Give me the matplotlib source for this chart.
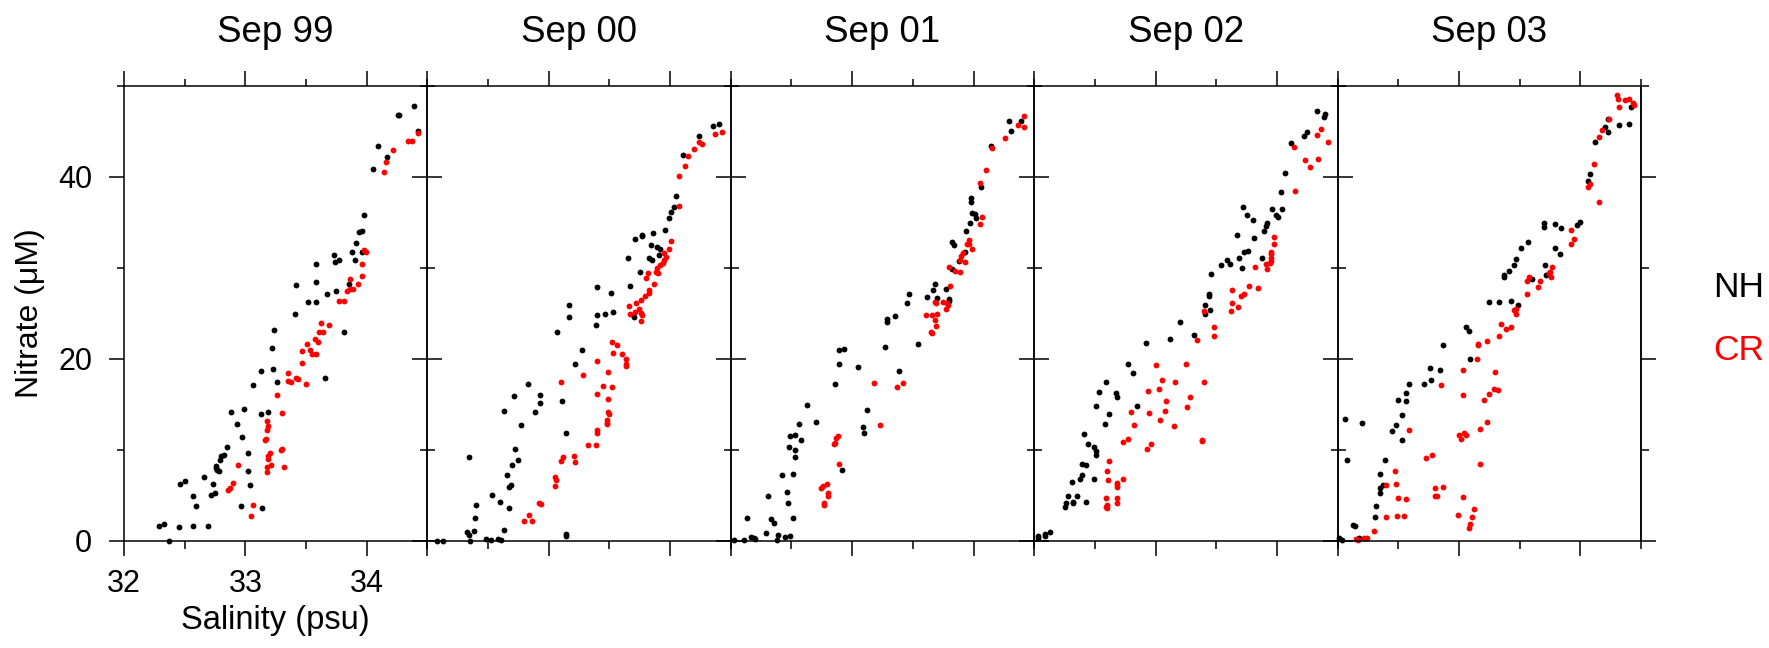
import matplotlib
matplotlib.use('Agg')
import matplotlib.pyplot as plt

plt.rcParams['font.family'] = ['Liberation Sans', 'DejaVu Sans']

titles = ['Sep 99', 'Sep 00', 'Sep 01', 'Sep 02', 'Sep 03']

# (salinity psu, nitrate uM)
nh_99 = [(34.39, 47.8), (34.26, 46.8), (34.27, 46.8), (34.42, 45.1), (34.09, 43.4), (34.17, 42.2), (34.05, 40.9),
         (33.98, 35.8), (33.94, 34.0), (33.96, 34.1), (33.91, 32.7), (33.73, 31.4), (33.74, 30.7), (33.77, 30.9),
         (33.88, 31.8), (33.96, 31.8), (33.90, 30.9), (33.58, 30.4), (33.58, 28.5), (33.42, 28.1), (33.85, 28.2),
         (33.75, 27.5), (33.67, 27.1), (33.52, 26.3), (33.58, 26.3), (33.41, 25.0), (33.24, 23.2), (33.81, 23.0),
         (33.22, 21.2), (33.13, 18.7), (33.23, 18.9), (33.26, 17.5), (33.66, 17.9), (33.06, 17.1), (32.88, 14.2),
         (32.99, 14.5), (33.13, 14.0), (33.19, 14.2), (32.93, 12.9), (32.97, 11.4), (32.85, 10.3), (33.02, 9.7),
         (32.80, 9.3), (32.82, 9.5), (32.79, 8.9), (32.76, 8.2), (32.76, 8.0), (32.78, 7.7), (32.77, 7.8),
         (33.02, 7.7), (32.66, 7.0), (32.46, 6.3), (32.50, 6.6), (32.73, 6.3), (33.04, 6.1), (32.57, 5.0),
         (32.72, 5.1), (32.75, 5.3), (32.59, 3.8), (32.96, 3.9), (33.14, 3.6), (32.29, 1.6), (32.33, 1.9),
         (32.45, 1.5), (32.57, 1.6), (32.69, 1.7), (32.37, 0.0)]
cr_99 = [(34.42, 44.8), (34.34, 44.0), (34.37, 44.0), (34.22, 43.0), (34.16, 41.6), (34.14, 40.6), (33.98, 32.0),
         (33.99, 31.8), (33.96, 30.4), (33.96, 29.1), (33.93, 28.2), (33.86, 28.8), (33.84, 27.5), (33.86, 27.7),
         (33.89, 27.7), (33.77, 26.4), (33.81, 26.4), (33.62, 24.0), (33.69, 23.7), (33.61, 23.0), (33.64, 23.0),
         (33.57, 22.2), (33.60, 21.9), (33.51, 21.6), (33.53, 21.0), (33.55, 20.5), (33.58, 20.5), (33.47, 20.9),
         (33.47, 19.6), (33.35, 18.5), (33.35, 17.6), (33.38, 17.5), (33.42, 17.9), (33.43, 17.8), (33.50, 17.3),
         (33.26, 16.0), (33.30, 14.1), (33.18, 13.2), (33.19, 12.6), (33.18, 12.2), (33.16, 11.1), (33.17, 11.2),
         (33.29, 10.0), (33.30, 10.1), (33.20, 9.7), (33.19, 9.3), (33.19, 9.0), (33.21, 8.4), (33.18, 8.1),
         (33.32, 8.1), (33.18, 7.6), (32.94, 8.3), (32.90, 6.4), (32.86, 5.6), (32.87, 5.8), (33.06, 4.0),
         (33.05, 2.8)]

nh_00 = [(34.35, 45.6), (34.40, 45.8), (34.24, 44.5), (34.11, 42.4), (34.05, 37.9), (34.03, 36.7), (34.01, 36.1),
         (33.99, 35.5), (33.96, 34.2), (33.86, 33.8), (33.71, 33.2), (33.77, 33.6), (33.77, 33.5), (33.84, 32.5),
         (33.89, 32.3), (33.92, 32.1), (33.91, 31.4), (33.83, 31.1), (33.85, 30.9), (33.65, 31.1), (33.75, 29.6),
         (33.67, 28.0), (33.40, 27.9), (33.51, 27.3), (33.17, 25.9), (33.17, 24.6), (33.40, 24.8), (33.46, 24.9),
         (33.53, 25.2), (33.39, 23.7), (33.70, 24.6), (33.07, 23.0), (33.27, 21.0), (33.22, 19.5), (32.83, 17.2),
         (32.71, 15.9), (32.93, 16.0), (32.93, 15.2), (32.63, 14.3), (32.89, 14.2), (33.11, 15.4), (32.77, 12.8),
         (33.14, 11.9), (32.72, 10.1), (32.34, 9.2), (32.75, 8.9), (32.70, 8.4), (32.66, 7.3), (32.69, 6.2),
         (32.67, 5.9), (32.53, 5.1), (32.60, 4.3), (32.40, 4.0), (32.67, 3.6), (32.39, 2.5), (32.63, 1.2),
         (32.33, 1.0), (32.34, 0.7), (32.38, 1.1), (32.08, 0.0), (32.13, 0.0), (32.35, 0.0), (32.48, 0.2),
         (32.52, 0.1), (32.58, 0.2), (32.61, 0.1), (33.14, 0.8), (33.14, 0.5)]
cr_00 = [(34.37, 44.7), (34.43, 44.9), (34.24, 43.9), (34.26, 43.6), (34.20, 43.1), (34.15, 42.3), (34.12, 41.2),
         (34.07, 40.1), (34.07, 36.8), (34.01, 33.0), (33.99, 32.1), (33.95, 31.7), (33.97, 31.2), (33.95, 30.9),
         (33.94, 30.5), (33.92, 30.3), (33.89, 30.0), (33.88, 29.6), (33.90, 29.4), (33.82, 29.5), (33.80, 28.9),
         (33.87, 28.2), (33.83, 27.6), (33.83, 27.3), (33.79, 26.9), (33.76, 26.5), (33.72, 26.2), (33.66, 25.8),
         (33.67, 25.0), (33.71, 25.2), (33.74, 25.5), (33.76, 25.1), (33.77, 24.8), (33.76, 24.2), (33.52, 21.9),
         (33.56, 21.5), (33.53, 20.7), (33.60, 20.6), (33.64, 20.0), (33.64, 19.4), (33.64, 19.2), (33.40, 19.8),
         (33.49, 18.6), (33.28, 18.2), (33.10, 17.5), (33.45, 17.0), (33.52, 16.9), (33.40, 16.1), (33.49, 15.6),
         (33.49, 14.2), (33.50, 14.0), (33.48, 13.3), (33.48, 13.0), (33.48, 12.9), (33.40, 12.2), (33.40, 11.9),
         (33.32, 10.5), (33.39, 10.5), (33.10, 8.8), (33.12, 9.2), (33.21, 9.3), (33.22, 8.7), (33.05, 7.0),
         (33.06, 6.7), (33.05, 6.0), (32.92, 4.2), (32.94, 4.1), (32.84, 2.9), (32.80, 2.2), (32.86, 2.2)]

nh_01 = [(34.29, 46.2), (34.39, 46.2), (34.31, 45.1), (34.14, 43.4), (34.06, 38.9), (33.98, 37.7), (33.98, 37.2),
         (33.99, 36.0), (34.01, 35.9), (34.02, 35.5), (33.97, 34.9), (33.94, 34.1), (33.82, 32.9), (33.84, 32.5),
         (33.93, 31.8), (33.88, 30.8), (33.82, 29.9), (33.68, 28.2), (33.67, 27.6), (33.70, 26.7), (33.62, 26.8),
         (33.77, 27.7), (33.80, 26.6), (33.80, 26.4), (33.47, 27.1), (33.45, 26.1), (33.29, 24.4), (33.29, 24.1),
         (33.35, 24.7), (33.27, 21.3), (33.54, 21.6), (32.89, 21.0), (32.93, 21.1), (32.89, 19.5), (33.05, 19.1),
         (33.39, 18.7), (32.86, 17.3), (32.63, 14.9), (32.70, 13.1), (32.56, 12.9), (32.49, 11.5), (32.53, 11.6),
         (32.58, 11.1), (32.48, 10.3), (32.53, 10.0), (32.53, 9.2), (33.12, 14.4), (33.09, 12.5), (33.10, 11.9),
         (32.92, 7.8), (32.51, 7.4), (32.42, 7.2), (32.31, 5.0), (32.46, 5.4), (32.47, 4.2), (32.13, 2.5),
         (32.33, 2.4), (32.36, 2.0), (32.51, 2.5), (32.29, 0.9), (32.39, 0.7), (32.38, 0.1), (32.45, 0.4),
         (32.49, 0.6), (32.03, 0.1), (32.11, 0.1), (32.17, 0.4), (32.19, 0.3), (32.20, 0.2)]
cr_01 = [(34.42, 46.7), (34.37, 45.7), (34.42, 45.5), (34.26, 44.3), (34.15, 43.2), (34.10, 40.8), (34.05, 39.3),
         (34.07, 35.6), (34.05, 34.8), (33.96, 33.1), (33.95, 32.6), (33.99, 32.1), (33.96, 32.6), (33.91, 31.6),
         (33.90, 31.3), (33.89, 30.9), (33.93, 30.7), (33.80, 30.1), (33.85, 29.7), (33.89, 29.6), (33.81, 28.0),
         (33.68, 26.3), (33.69, 26.2), (33.75, 26.3), (33.78, 26.2), (33.79, 25.9), (33.77, 25.5), (33.61, 24.8),
         (33.66, 24.8), (33.70, 24.9), (33.68, 24.3), (33.69, 23.6), (33.65, 23.0), (33.66, 22.9), (33.18, 17.4),
         (33.37, 16.9), (33.42, 17.4), (33.23, 12.7), (32.85, 10.7), (32.86, 10.8), (32.87, 11.3), (32.88, 11.5),
         (32.89, 8.5), (32.74, 5.8), (32.76, 6.0), (32.79, 6.3), (32.80, 5.3), (32.80, 5.0), (32.77, 4.2),
         (32.77, 4.0)]

nh_02 = [(34.33, 47.2), (34.40, 46.9), (34.39, 46.6), (34.25, 45.0), (34.22, 44.5), (34.12, 43.7), (34.07, 40.4),
         (34.03, 38.4), (33.72, 36.7), (33.75, 35.8), (33.80, 35.3), (33.96, 36.5), (34.04, 36.5), (33.99, 35.8),
         (34.01, 35.6), (33.92, 34.9), (33.91, 34.6), (33.89, 34.1), (33.67, 33.6), (33.81, 33.3), (33.73, 31.8),
         (33.76, 31.9), (33.69, 31.1), (33.88, 31.1), (33.59, 30.9), (33.61, 30.4), (33.54, 30.3), (33.71, 30.0),
         (33.46, 29.3), (33.44, 27.1), (33.44, 26.9), (33.41, 25.9), (33.45, 25.4), (33.41, 24.9), (33.20, 24.1),
         (33.32, 22.6), (33.12, 22.2), (32.92, 21.8), (32.77, 19.5), (32.81, 18.5), (32.59, 17.5), (32.53, 16.4),
         (32.67, 16.3), (32.68, 15.8), (32.51, 14.8), (32.85, 14.8), (32.62, 14.0), (32.58, 12.9), (32.41, 11.8),
         (32.44, 10.7), (32.49, 10.3), (32.51, 9.9), (32.51, 9.5), (32.39, 8.5), (32.43, 8.4), (32.39, 7.2),
         (32.38, 6.8), (32.49, 6.8), (32.31, 6.5), (32.28, 5.0), (32.35, 4.9), (32.32, 4.3), (32.32, 4.2),
         (32.43, 4.3), (32.26, 4.2), (32.25, 3.7), (32.03, 0.5), (32.03, 0.3), (32.09, 0.8), (32.09, 0.5),
         (32.13, 1.0)]
cr_02 = [(34.36, 45.3), (34.33, 44.6), (34.42, 43.8), (34.14, 43.3), (34.23, 41.9), (34.34, 42.0), (34.27, 41.1),
         (34.15, 38.5), (33.98, 33.4), (33.98, 32.6), (33.95, 31.8), (33.95, 31.5), (33.95, 31.1), (33.95, 30.8),
         (33.94, 30.5), (33.91, 30.4), (33.92, 29.9), (33.82, 30.1), (33.77, 28.0), (33.84, 27.8), (33.63, 27.6),
         (33.70, 26.9), (33.73, 27.1), (33.63, 26.2), (33.68, 25.7), (33.62, 25.3), (33.40, 25.3), (33.48, 23.5),
         (33.48, 22.5), (33.34, 22.1), (33.00, 19.3), (33.25, 19.5), (33.05, 17.7), (33.16, 17.5), (33.40, 17.5),
         (32.94, 16.5), (33.03, 16.7), (33.09, 15.4), (33.28, 15.8), (32.80, 14.2), (32.95, 14.1), (33.08, 14.3),
         (33.26, 14.7), (33.04, 13.3), (32.82, 12.7), (33.15, 12.6), (32.73, 10.9), (32.77, 11.2), (33.38, 11.1),
         (33.38, 11.0), (32.93, 10.1), (32.96, 10.7), (32.62, 8.8), (32.60, 7.7), (32.61, 6.7), (32.68, 6.4),
         (32.68, 5.9), (32.68, 6.1), (32.73, 6.8), (32.59, 4.7), (32.60, 4.0), (32.59, 3.7), (32.60, 3.6),
         (32.68, 4.7), (32.68, 4.2)]

nh_03 = [(34.42, 47.7), (34.32, 45.7), (34.40, 45.8), (34.23, 45.0), (34.23, 46.4), (34.20, 45.5), (34.12, 43.8),
         (34.08, 40.3), (34.06, 39.6), (34.00, 35.1), (33.97, 34.7), (33.70, 34.9), (33.70, 34.5), (33.79, 34.8),
         (33.84, 34.4), (33.57, 32.9), (33.51, 32.2), (33.79, 32.2), (33.83, 31.5), (33.47, 31.0), (33.45, 30.3),
         (33.41, 29.7), (33.37, 29.2), (33.37, 29.0), (33.60, 28.8), (33.71, 30.3), (33.72, 29.2), (33.25, 26.3),
         (33.33, 26.3), (33.43, 26.4), (33.49, 25.9), (33.06, 23.5), (33.08, 23.1), (32.87, 21.5), (33.09, 20.0),
         (32.76, 19.0), (32.84, 18.8), (32.77, 17.7), (32.71, 17.2), (32.59, 17.3), (32.56, 16.3), (32.50, 15.5),
         (32.56, 15.4), (32.53, 13.8), (32.06, 13.4), (32.20, 13.0), (32.48, 12.7), (32.45, 12.1), (32.53, 11.1),
         (32.08, 8.9), (32.39, 8.9), (32.35, 7.4), (32.37, 6.1), (32.35, 5.8), (32.35, 5.3), (32.32, 3.9),
         (32.31, 2.6), (32.13, 1.8), (32.14, 1.7), (32.01, 0.3), (32.04, 0.1), (32.18, 0.3)]
cr_03 = [(34.30, 49.0), (34.31, 48.6), (34.37, 48.5), (34.40, 48.6), (34.43, 48.1), (34.44, 47.9), (34.32, 47.7),
         (34.24, 46.4), (34.18, 45.2), (34.15, 44.4), (34.11, 41.4), (34.06, 38.9), (34.08, 39.2), (34.15, 37.2),
         (33.92, 34.2), (33.95, 33.2), (33.92, 32.6), (33.77, 30.1), (33.75, 29.6), (33.74, 29.5), (33.76, 29.0),
         (33.58, 29.0), (33.56, 28.6), (33.67, 28.6), (33.65, 27.9), (33.56, 27.1), (33.45, 25.4), (33.47, 25.5),
         (33.47, 24.9), (33.35, 23.8), (33.39, 23.3), (33.43, 23.5), (33.33, 22.5), (33.23, 22.0), (33.16, 21.7),
         (33.16, 21.5), (33.15, 20.0), (33.03, 18.8), (33.30, 18.6), (32.85, 17.1), (33.29, 16.7), (33.32, 16.6),
         (33.25, 16.2), (33.03, 16.0), (33.21, 15.5), (33.23, 13.1), (33.17, 12.3), (32.59, 12.2), (33.00, 11.7),
         (33.02, 11.2), (33.04, 11.9), (33.06, 11.7), (32.73, 9.1), (32.78, 9.5), (33.17, 8.5), (32.47, 7.7),
         (32.48, 6.3), (32.40, 6.1), (32.80, 5.8), (32.87, 5.9), (32.80, 4.9), (32.82, 4.9), (32.50, 4.7),
         (32.56, 4.6), (33.03, 4.8), (33.12, 3.5), (32.99, 2.9), (33.11, 2.6), (33.09, 1.9), (33.08, 1.4),
         (32.40, 2.6), (32.49, 2.7), (32.55, 2.8), (32.30, 1.1), (32.15, 0.2), (32.17, 0.1), (32.22, 0.3),
         (32.24, 0.3)]

nh_sets = [nh_99, nh_00, nh_01, nh_02, nh_03]
cr_sets = [cr_99, cr_00, cr_01, cr_02, cr_03]

x_major = [32, 33, 34]
x_minor = [32.5, 33.5, 34.5]
y_major = [0, 20, 40]
y_minor = [10, 30, 50]

W, H = 1769, 648
LEFT, BOTTOM, TOP = 124, 541, 86
PANEL_W = 303.4
MAJ, MIN = 11.0, 5.4
LW = 1.1
FS = 22


def draw_points(ax, pts, color):
    sal = [p[0] for p in pts]
    no3 = [p[1] for p in pts]
    ax.plot(sal, no3, 'o', color=color, markersize=4.2, markeredgewidth=0, clip_on=False)


def style_axes(ax, i):
    ax.set_xlim(32, 34.5)
    ax.set_ylim(0, 50)
    ax.set_xticks(x_major)
    ax.set_xticks(x_minor, minor=True)
    ax.set_yticks(y_major)
    ax.set_yticks(y_minor, minor=True)
    for sp in ax.spines.values():
        sp.set_linewidth(LW)
    ax.tick_params(axis='x', which='both', direction='out', top=True, bottom=True,
                   width=LW, labelsize=FS, pad=9, labelbottom=(i == 0))
    ax.tick_params(axis='x', which='major', length=MAJ)
    ax.tick_params(axis='x', which='minor', length=MIN)
    if i == 0:
        ax.tick_params(axis='y', which='both', direction='out', left=True, right=False,
                       width=LW, labelsize=FS, pad=12)
        ax.tick_params(axis='y', which='major', length=MAJ)
        ax.tick_params(axis='y', which='minor', length=MIN)
    else:
        ax.tick_params(axis='y', which='both', direction='inout', left=True, right=False,
                       width=LW, labelleft=False)
        ax.tick_params(axis='y', which='major', length=2 * MAJ)
        ax.tick_params(axis='y', which='minor', length=2 * MIN)
    if i == 4:
        sec = ax.secondary_yaxis('right')
        sec.set_yticks(y_major)
        sec.set_yticks(y_minor, minor=True)
        sec.spines['right'].set_linewidth(LW)
        sec.tick_params(which='both', direction='out', width=LW, labelright=False)
        sec.tick_params(which='major', length=MAJ)
        sec.tick_params(which='minor', length=MIN)


fig = plt.figure(figsize=(W / 100, H / 100), dpi=100)

for i in range(5):
    rect = [(LEFT + i * PANEL_W) / W, 1 - BOTTOM / H, PANEL_W / W, (BOTTOM - TOP) / H]
    ax = fig.add_axes(rect)
    ax.patch.set_alpha(0)
    draw_points(ax, nh_sets[i], 'black')
    draw_points(ax, cr_sets[i], '#ff0000')
    style_axes(ax, i)
    ax.text(0.5, 1 + 44 / (BOTTOM - TOP), titles[i], transform=ax.transAxes,
            ha='center', va='baseline', fontsize=26.5)

fig.text(30 / W, 1 - 313 / H, 'Nitrate (\u03bcM)', rotation=90, ha='center', va='center', fontsize=23)
fig.text((LEFT + PANEL_W / 2) / W, 1 - 621 / H, 'Salinity (psu)', ha='center', va='center', fontsize=23.5)
fig.text(1713 / W, 1 - 297 / H, 'NH', color='black', ha='left', va='baseline', fontsize=25.5)
fig.text(1713 / W, 1 - 360 / H, 'CR', color='#ff0000', ha='left', va='baseline', fontsize=25.5)

fig.savefig('out.png', dpi=100)
